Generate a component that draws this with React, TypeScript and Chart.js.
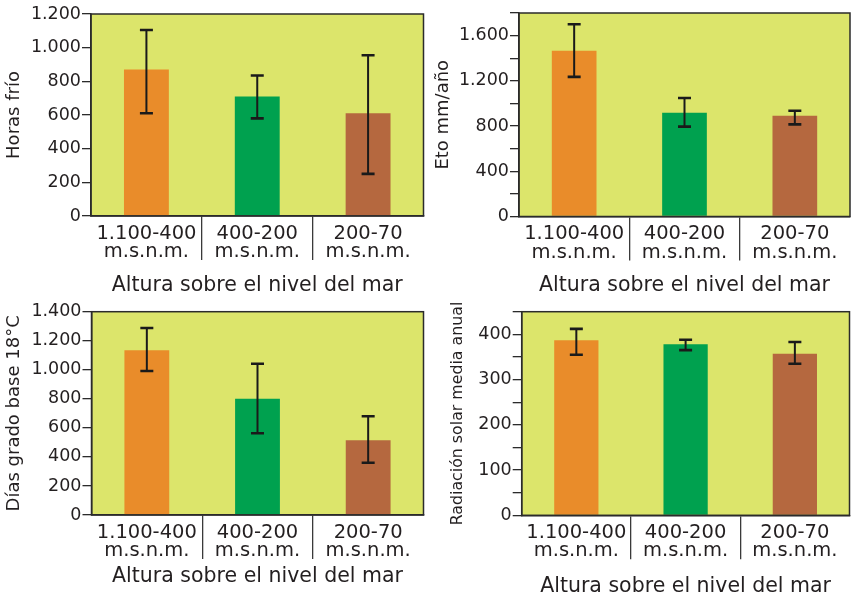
import React, { useEffect, useRef } from 'react';
import { Chart, registerables } from 'chart.js';

Chart.register(...registerables);

// ---------- data ----------
const categories: string[][] = [
  ['1.100-400', 'm.s.n.m.'],
  ['400-200', 'm.s.n.m.'],
  ['200-70', 'm.s.n.m.'],
];
const barColors = ['#e98c2a', '#00a14f', '#b5683f'];
const xAxisTitle = 'Altura sobre el nivel del mar';

const horasFrio = [870, 710, 610];
const horasFrioLow = [610, 580, 250];
const horasFrioHigh = [1105, 835, 955];

const eto = [1465, 918, 892];
const etoLow = [1235, 795, 815];
const etoHigh = [1700, 1048, 936];

const diasGrado = [1135, 800, 515];
const diasGradoLow = [992, 563, 360];
const diasGradoHigh = [1288, 1042, 680];

const radiacion = [387, 378, 357];
const radiacionLow = [355, 365, 335];
const radiacionHigh = [412, 388, 383];

// ---------- styles ----------
const FONT = '"DejaVu Sans", sans-serif';
const PLOT_BG = '#dce56b';
const INK = '#231f20';
const AXIS = '#2b2b2b';

function fmt(v: number): string {
  if (v >= 1000) {
    const th = Math.floor(v / 1000);
    const rest = String(v % 1000).padStart(3, '0');
    return `${th}.${rest}`;
  }
  return String(v);
}

type Panel = {
  left: number; top: number; width: number; height: number;
  area: { left: number; right: number; top: number; bottom: number };
  values: number[]; low: number[]; high: number[];
  yTitle: string; yTitleSize: number; yTitlePad: number;
  yMax: number; yStep: number; yLabelStep: number;
  xTickPad: number; xTitleOffset: number;
};

const panels: Panel[] = [
  {
    left: 0, top: 0, width: 430, height: 296,
    area: { left: 91, right: 423.5, top: 14, bottom: 216 },
    values: horasFrio, low: horasFrioLow, high: horasFrioHigh,
    yTitle: 'Horas frío', yTitleSize: 18, yTitlePad: 4,
    yMax: 1200, yStep: 200, yLabelStep: 200,
    xTickPad: -35.5, xTitleOffset: -1.5,
  },
  {
    left: 430, top: 0, width: 421, height: 296,
    area: { left: 89, right: 420, top: 13, bottom: 216.5 },
    values: eto, low: etoLow, high: etoHigh,
    yTitle: 'Eto mm/año', yTitleSize: 18, yTitlePad: 3,
    yMax: 1800, yStep: 200, yLabelStep: 400,
    xTickPad: -35.5, xTitleOffset: -1.5,
  },
  {
    left: 0, top: 296, width: 430, height: 300,
    area: { left: 91.5, right: 423.5, top: 15.7, bottom: 219 },
    values: diasGrado, low: diasGradoLow, high: diasGradoHigh,
    yTitle: 'Días grado base 18°C', yTitleSize: 18, yTitlePad: 4,
    yMax: 1400, yStep: 200, yLabelStep: 200,
    xTickPad: -35.5, xTitleOffset: 7,
  },
  {
    left: 430, top: 296, width: 421, height: 300,
    area: { left: 91.7, right: 419.5, top: 15.7, bottom: 219.3 },
    values: radiacion, low: radiacionLow, high: radiacionHigh,
    yTitle: 'Radiación solar media anual', yTitleSize: 15.8, yTitlePad: 18,
    yMax: 450, yStep: 50, yLabelStep: 100,
    xTickPad: -35.5, xTitleOffset: -2.5,
  },
];

const plotBackground = {
  id: 'plotBackground',
  beforeDraw(chart: any) {
    const { ctx, chartArea } = chart;
    ctx.save();
    ctx.fillStyle = PLOT_BG;
    ctx.fillRect(chartArea.left, chartArea.top, chartArea.right - chartArea.left, chartArea.bottom - chartArea.top);
    ctx.restore();
  },
  afterDraw(chart: any) {
    const { ctx, chartArea } = chart;
    ctx.save();
    ctx.strokeStyle = AXIS;
    ctx.lineWidth = 1.5;
    ctx.strokeRect(chartArea.left, chartArea.top, chartArea.right - chartArea.left, chartArea.bottom - chartArea.top);
    ctx.restore();
  },
};

const errorBars = {
  id: 'errorBars',
  afterDatasetsDraw(chart: any, _args: any, opts: any) {
    const { ctx } = chart;
    const yScale = chart.scales.y;
    const meta = chart.getDatasetMeta(0);
    const low: number[] = opts.low || [];
    const high: number[] = opts.high || [];
    ctx.save();
    ctx.strokeStyle = '#1a1a1a';
    meta.data.forEach((bar: any, i: number) => {
      const x = bar.x;
      const yl = yScale.getPixelForValue(low[i]);
      const yh = yScale.getPixelForValue(high[i]);
      ctx.lineWidth = 2;
      ctx.beginPath();
      ctx.moveTo(x, yl);
      ctx.lineTo(x, yh);
      ctx.stroke();
      ctx.lineWidth = 2.6;
      ctx.beginPath();
      ctx.moveTo(x - 6.5, yl);
      ctx.lineTo(x + 6.5, yl);
      ctx.moveTo(x - 6.5, yh);
      ctx.lineTo(x + 6.5, yh);
      ctx.stroke();
    });
    ctx.restore();
  },
};

function PanelChart({ p }: { p: Panel }) {
  const ref = useRef<HTMLCanvasElement | null>(null);
  useEffect(() => {
    if (!ref.current) return;
    const chart = new Chart(ref.current, {
      type: 'bar',
      data: {
        labels: categories,
        datasets: [
          {
            data: p.values,
            backgroundColor: barColors,
            borderWidth: 0,
            barPercentage: 0.405,
            categoryPercentage: 1,
          },
        ],
      },
      options: {
        animation: false,
        responsive: false,
        events: [],
        layout: {
          padding: { left: 0, top: p.area.top, right: p.width - p.area.right, bottom: 0 },
        },
        plugins: {
          legend: { display: false },
          tooltip: { enabled: false },
          errorBars: { low: p.low, high: p.high },
        } as any,
        scales: {
          x: {
            type: 'category',
            offset: true,
            grid: {
              offset: true,
              drawOnChartArea: false,
              drawTicks: true,
              tickLength: 44,
              lineWidth: 1.3,
              color: (ctx: any) => (ctx.index === 1 || ctx.index === 2 ? '#3a3a3a' : 'rgba(0,0,0,0)'),
            },
            border: { display: true, color: AXIS, width: 1.5 },
            ticks: {
              padding: p.xTickPad,
              autoSkip: false,
              maxRotation: 0,
              color: INK,
              font: { family: FONT, size: 19.5, lineHeight: 0.94 },
            },
            title: {
              display: true,
              text: xAxisTitle,
              color: INK,
              font: { family: FONT, size: 20.5, lineHeight: 1.2 },
              padding: { top: 0, bottom: p.xTitleOffset },
            },
            afterFit: (s: any) => {
              s.height = p.height - p.area.bottom;
            },
          },
          y: {
            type: 'linear',
            min: 0,
            max: p.yMax,
            grid: {
              drawOnChartArea: false,
              drawTicks: true,
              tickLength: 9,
              lineWidth: 1.3,
              color: AXIS,
            },
            border: { display: true, color: AXIS, width: 1.5 },
            ticks: {
              stepSize: p.yStep,
              autoSkip: false,
              padding: 1,
              color: INK,
              font: { family: FONT, size: 17.5 },
              callback: (v: any) => (Number(v) % p.yLabelStep === 0 ? fmt(Number(v)) : ''),
            },
            title: {
              display: true,
              text: p.yTitle,
              color: INK,
              font: { family: FONT, size: p.yTitleSize, lineHeight: 1.2 },
              padding: { top: p.yTitlePad, bottom: 0 },
            },
            afterFit: (s: any) => {
              s.width = p.area.left;
            },
          },
        },
      },
      plugins: [plotBackground, errorBars],
    } as any);
    return () => chart.destroy();
  }, [p]);
  return (
    <canvas
      ref={ref}
      width={p.width}
      height={p.height}
      style={{ position: 'absolute', left: p.left, top: p.top, width: p.width, height: p.height, display: 'block' }}
    />
  );
}

export default function App() {
  return (
    <div style={{ position: 'absolute', left: 0, top: 0, width: 851, height: 596, background: '#ffffff', overflow: 'hidden' }}>
      {panels.map((p, i) => (
        <PanelChart key={i} p={p} />
      ))}
    </div>
  );
}
